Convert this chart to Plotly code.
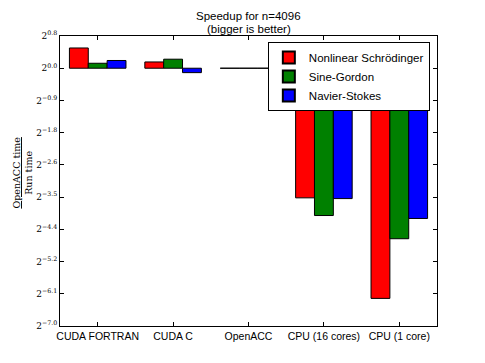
import numpy as np
import plotly.graph_objects as go

categories = ["CUDA FORTRAN", "CUDA C", "OpenACC", "CPU (16 cores)", "CPU (1 core)"]
# log2(OpenACC time / Run time)
nls = [0.55, 0.17, 0.0, -3.52, -6.25]
sine_gordon = [0.135, 0.245, 0.0, -4.00, -4.63]
navier_stokes = [0.21, -0.12, 0.0, -3.54, -4.08]
ytick_exps = ["0.8", "0.0", "\u22120.9", "\u22121.8", "\u22122.6", "\u22123.5",
              "\u22124.4", "\u22125.2", "\u22126.1", "\u22127.0"]
title_lines = ["Speedup for n=4096", "(bigger is better)"]

series = [("Nonlinear Schrödinger", nls, "#ff0000"),
          ("Sine-Gordon", sine_gordon, "#008000"),
          ("Navier-Stokes", navier_stokes, "#0000ff")]

fig = go.Figure()
for name, vals, col in series:
    fig.add_trace(go.Bar(x=categories, y=vals, name=name,
                         marker=dict(color=col, line=dict(color="black", width=1))))

ymin, ymax = -7.0, 0.875
tickvals = list(np.linspace(ymax, ymin, len(ytick_exps)))
ticktext = ["2<sup>%s</sup>" % e for e in ytick_exps]

fig.update_layout(
    width=477, height=355,
    margin=dict(l=52, r=48, t=28, b=37),
    paper_bgcolor="white", plot_bgcolor="white",
    barmode="group", bargap=0.25, bargroupgap=0,
    font=dict(family="Liberation Sans, Arial, sans-serif", size=11, color="black"),
    showlegend=True,
    legend=dict(x=0.981, y=0.979, xanchor="right", yanchor="top",
                bgcolor="white", bordercolor="black", borderwidth=1,
                font=dict(size=11.5), tracegroupgap=0, itemsizing="constant"),
    xaxis=dict(range=[-0.5, 4.5], showline=True, linecolor="black", linewidth=1,
               mirror="allticks", ticks="inside", ticklen=4, tickcolor="black",
               showgrid=False, zeroline=False, tickfont=dict(size=10.5)),
    yaxis=dict(range=[ymin, ymax], showline=True, linecolor="black", linewidth=1,
               mirror="allticks", ticks="inside", ticklen=4, tickcolor="black",
               showgrid=False, zeroline=False, tickvals=tickvals, ticktext=ticktext,
               tickfont=dict(family="DejaVu Serif, serif", size=9)),
)

for line, shift in zip(title_lines, [20, 7]):
    fig.add_annotation(text=line, xref="paper", yref="paper", x=0.5, y=1.0,
                       xanchor="center", yanchor="middle", yshift=shift,
                       showarrow=False, font=dict(size=11.5))

fig.add_annotation(text="<u>OpenACC time</u><br>Run time", textangle=-90,
                   xref="paper", yref="paper", x=-0.10, y=0.53,
                   xanchor="center", yanchor="middle", showarrow=False,
                   font=dict(family="DejaVu Serif, serif", size=9.5))

fig.write_html("out.html")
